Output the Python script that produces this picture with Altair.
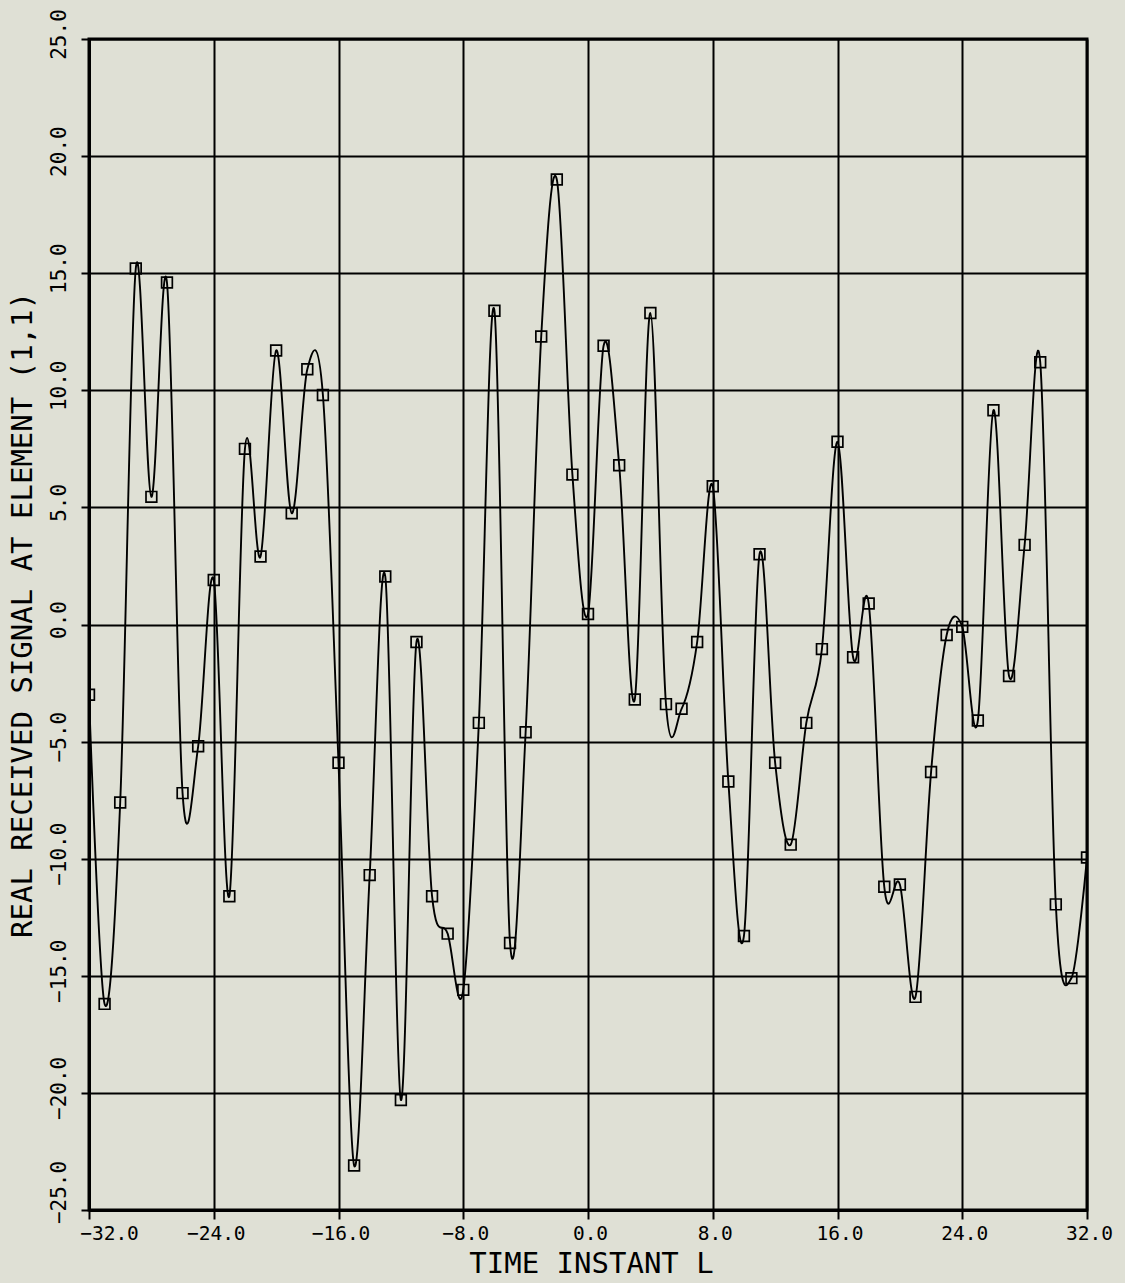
import altair as alt
import pandas as pd

# Sample instants and the real received signal at element (1,1)
time_instant = list(range(-32, 33))
signal = [
    -3.0, -16.2, -7.6, 15.2, 5.45, 14.6, -7.2, -5.2,      # -32 .. -25
    1.9, -11.6, 7.5, 2.9, 11.7, 4.75, 10.9, 9.8,          # -24 .. -17
    -5.9, -23.1, -10.7, 2.05, -20.3, -0.75, -11.6, -13.2, # -16 .. -9
    -15.6, -4.2, 13.4, -13.6, -4.6, 12.3, 19.0, 6.4,      # -8 .. -1
    0.45, 11.9, 6.8, -3.2, 13.3, -3.4, -3.6, -0.75,       # 0 .. 7
    5.9, -6.7, -13.3, 3.0, -5.9, -9.4, -4.2, -1.05,       # 8 .. 15
    7.8, -1.4, 0.9, -11.2, -11.1, -15.9, -6.3, -0.45,     # 16 .. 23
    -0.1, -4.1, 9.15, -2.2, 3.4, 11.2, -11.95, -15.1,     # 24 .. 31
    -9.95,                                                # 32
]
x_ticks = [-32, -24, -16, -8, 0, 8, 16, 24, 32]
y_ticks = [-25, -20, -15, -10, -5, 0, 5, 10, 15, 20, 25]

df = pd.DataFrame({"t": time_instant, "v": signal})

FONT = "DejaVu Sans Mono"
W, H = 998, 1171

x_enc = alt.X(
    "t:Q",
    scale=alt.Scale(domain=[-32, 32], nice=False, zero=False),
    axis=alt.Axis(
        values=x_ticks, format=".1f", title="TIME INSTANT L",
        grid=True, gridColor="black", gridWidth=2, gridOpacity=1,
        domain=True, domainColor="black", domainWidth=3,
        ticks=True, tickColor="black", tickSize=9, tickWidth=2,
        labelFont=FONT, labelFontSize=19.5, labelColor="black", labelPadding=5,
        labelFlush=False,
        labelOffset={"condition": {"test": "datum.value == -32", "value": 20},
                     "value": 2},
        titleFont=FONT, titleFontSize=29, titleFontWeight="normal",
        titleColor="black", titleX=502, titleY=53, titleBaseline="middle",
        titleAlign="center",
    ),
)
y_enc = alt.Y(
    "v:Q",
    scale=alt.Scale(domain=[-25, 25], nice=False, zero=False),
    axis=alt.Axis(
        values=y_ticks, format=".1f",
        title="REAL RECEIVED SIGNAL AT ELEMENT (1,1)",
        grid=True, gridColor="black", gridWidth=2, gridOpacity=1,
        domain=True, domainColor="black", domainWidth=3,
        ticks=True, tickColor="black", tickSize=8, tickWidth=2,
        labelFont=FONT, labelFontSize=21, labelColor="black", labelPadding=12,
        labelAngle=270, labelAlign="center", labelBaseline="bottom",
        labelFlush=False,
        labelOffset={"condition": {"test": "datum.value == -25", "value": -18},
                     "value": -5},
        titleFont=FONT, titleFontSize=29, titleFontWeight="normal",
        titleColor="black", titleAngle=270, titleX=-67, titleY=H / 2 - 10,
        titleAlign="center", titleBaseline="middle",
    ),
)

base = alt.Chart(df)
line = base.mark_line(
    interpolate="cardinal", color="black", strokeWidth=1.9, clip=True
).encode(x=x_enc, y=y_enc)
points = base.mark_point(
    shape="square", filled=False, color="black", size=115, strokeWidth=1.7,
    opacity=1, clip=True
).encode(x="t:Q", y="v:Q")

chart = (
    alt.layer(line, points)
    .properties(
        width=W, height=H,
        autosize=alt.AutoSizeParams(type="none"),
        padding={"left": 89, "top": 39, "right": 38, "bottom": 73},
        background="#dfe0d5",
    )
    .configure_view(stroke="black", strokeWidth=3)
)

chart.save("out.html", embed_options={"renderer": "svg", "actions": False})
